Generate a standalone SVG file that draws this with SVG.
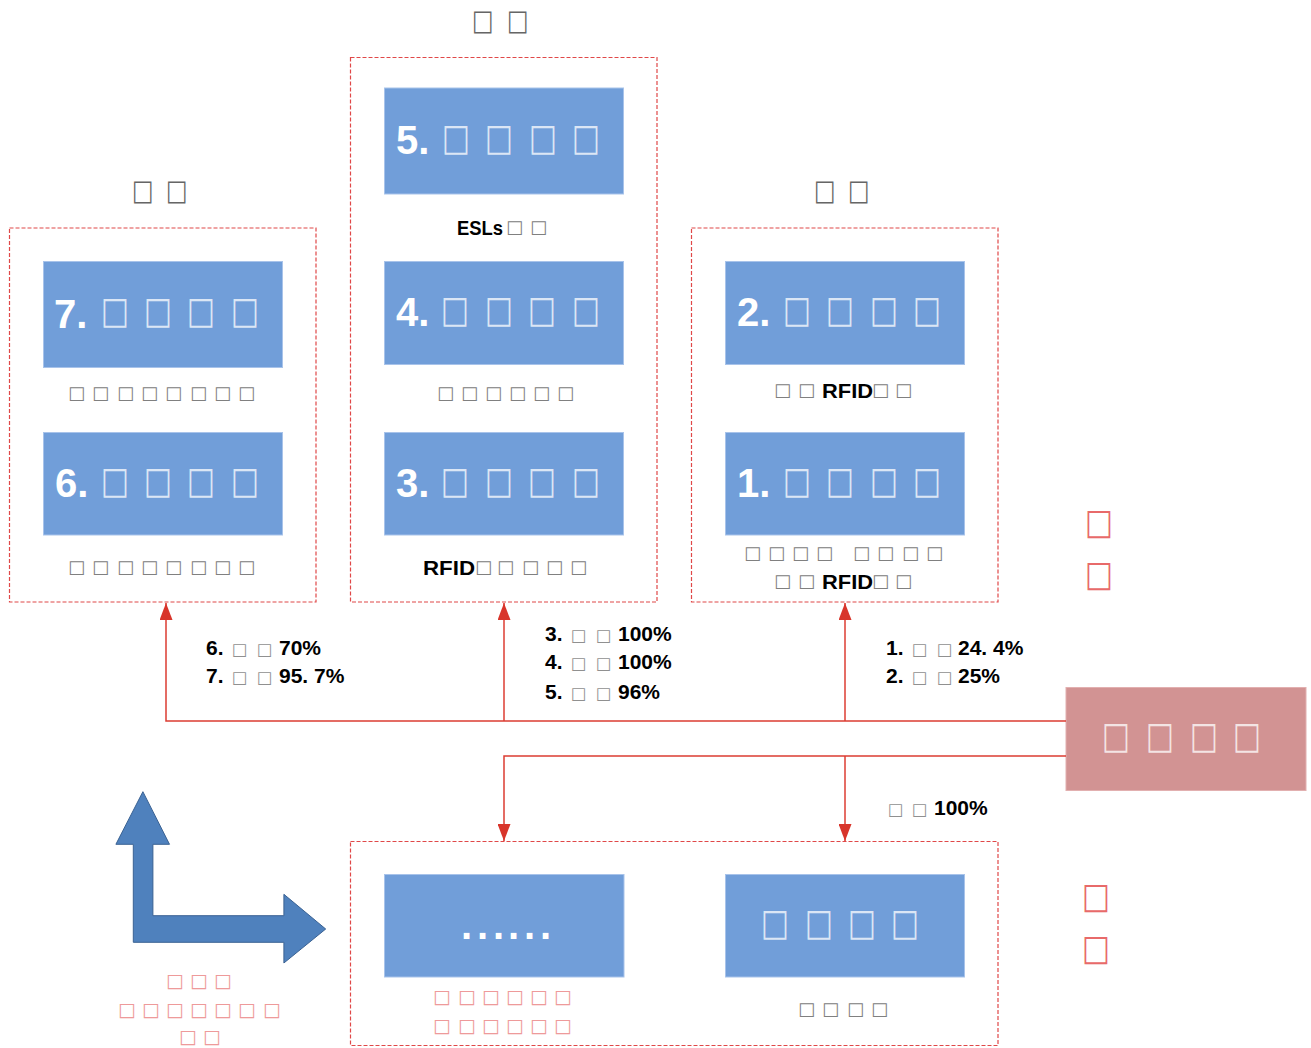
<svg xmlns="http://www.w3.org/2000/svg" width="1311" height="1048" viewBox="0 0 1311 1048">
<defs>
<style>
.grp{fill:none;stroke:#e04848;stroke-width:1.2;stroke-dasharray:4,2}
.blue{fill:#719ed9;stroke:#a8c3ea;stroke-width:1}
.num{font-family:"Liberation Sans",Arial,sans-serif;font-weight:bold;font-size:40px;fill:#fff}
.tw{font-family:"DejaVu Sans",sans-serif;font-size:30px;fill:#fff;fill-opacity:.75}
.tg{font-family:"DejaVu Sans",sans-serif;font-size:18px;fill:#808080}
.tt{font-family:"DejaVu Sans",sans-serif;font-size:23px;fill:#666}
.tr{font-family:"DejaVu Sans",sans-serif;font-size:30px;fill:#e86a6a}
.trs{font-family:"DejaVu Sans",sans-serif;font-size:19px;fill:#ee9a9a}
.lbl{font-family:"Liberation Sans",Arial,sans-serif;font-weight:bold;font-size:21px;fill:#000}
.ts{font-family:"DejaVu Sans",sans-serif;font-size:16.5px;fill:#909090;font-weight:normal}
.bk{font-family:"Liberation Sans",Arial,sans-serif;font-weight:bold;font-size:20px;fill:#000}
.con{fill:none;stroke:#dc3c32;stroke-width:1.5}
</style>
<marker id="ah" viewBox="0 0 17 13" refX="17" refY="6.5" markerWidth="17" markerHeight="13" markerUnits="userSpaceOnUse" orient="auto"><path d="M0,0 L17,6.5 L0,13Z" fill="#d8352b"/></marker>
</defs>
<rect width="1311" height="1048" fill="#fff"/>

<g id="group-left">
<rect class="grp" x="9.5" y="228" width="306.5" height="374"/>
<text class="tt" x="132 166" y="161.3" transform="scale(1 1.24)">□□</text>
</g>
<g id="group-mid">
<rect class="grp" x="350.5" y="57.5" width="306.5" height="544.5"/>
<text class="tt" x="472 507" y="24.2" transform="scale(1 1.24)">□□</text>
</g>
<g id="group-right">
<rect class="grp" x="691.5" y="228" width="306.5" height="374"/>
<text class="tt" x="814 848" y="161.3" transform="scale(1 1.24)">□□</text>
</g>
<g id="group-bottom">
<rect class="grp" x="350.5" y="841.5" width="647.5" height="204"/>
</g>

<g id="node7">
<rect class="blue" x="43.5" y="261.5" width="239" height="106"/>
<text class="num" x="54" y="328">7.</text>
<text class="tw" x="101 144 187 231" y="262.6" transform="scale(1 1.23)">□□□□</text>
<text class="tg" x="68 92 117 141 165 190 214 238" y="399">□□□□□□□□</text>
</g>
<g id="node6">
<rect class="blue" x="43.5" y="432.5" width="239" height="102.5"/>
<text class="num" x="55" y="497">6.</text>
<text class="tw" x="101 144 187 231" y="400.8" transform="scale(1 1.23)">□□□□</text>
<text class="tg" x="68 92 117 141 165 190 214 238" y="573">□□□□□□□□</text>
</g>
<g id="node5">
<rect class="blue" x="384.5" y="88" width="239" height="106"/>
<text class="num" x="396" y="154">5.</text>
<text class="tw" x="442 485 529 572" y="121.95" transform="scale(1 1.23)">□□□□</text>
<text class="bk" x="457" y="235" textLength="46" lengthAdjust="spacingAndGlyphs">ESLs</text>
<text class="tg" x="506 530" y="233">□□</text>
</g>
<g id="node4">
<rect class="blue" x="384.5" y="261.5" width="239" height="103"/>
<text class="num" x="396" y="326">4.</text>
<text class="tw" x="441 485 528 572" y="261.8" transform="scale(1 1.23)">□□□□</text>
<text class="tg" x="437 461 485 509 533 557" y="399">□□□□□□</text>
</g>
<g id="node3">
<rect class="blue" x="384.5" y="432.5" width="239" height="102.5"/>
<text class="num" x="396" y="497">3.</text>
<text class="tw" x="441 485 528 572" y="400.8" transform="scale(1 1.23)">□□□□</text>
<text class="bk" x="423" y="575" textLength="52" lengthAdjust="spacingAndGlyphs">RFID</text>
<text class="tg" x="475 497 522 546 570" y="573">□□□□□</text>
</g>
<g id="node2">
<rect class="blue" x="725.5" y="261.5" width="239" height="103"/>
<text class="num" x="737" y="326">2.</text>
<text class="tw" x="783 826 870 913" y="261.8" transform="scale(1 1.23)">□□□□</text>
<text class="tg" x="774 798" y="396">□□</text>
<text class="bk" x="822" y="398" textLength="51" lengthAdjust="spacingAndGlyphs">RFID</text>
<text class="tg" x="872 895" y="396">□□</text>
</g>
<g id="node1">
<rect class="blue" x="725.5" y="432.5" width="239" height="102.5"/>
<text class="num" x="737" y="497">1.</text>
<text class="tw" x="783 826 870 913" y="400.8" transform="scale(1 1.23)">□□□□</text>
<text class="tg" x="744 768 792 816 853 877 902 926" y="559">□□□□□□□□</text>
<text class="tg" x="774 798" y="587">□□</text>
<text class="bk" x="822" y="589" textLength="51" lengthAdjust="spacingAndGlyphs">RFID</text>
<text class="tg" x="872 895" y="587">□□</text>
</g>
<g id="node-source">
<rect x="1066" y="687.5" width="240" height="103" fill="#d29393" stroke="#e2b0b0" stroke-width="1"/>
<text class="tw" x="1102 1146 1190 1233" y="608.1" transform="scale(1 1.23)">□□□□</text>
</g>
<g id="node-etc">
<rect class="blue" x="384.5" y="874.5" width="239.5" height="102.5"/>
<text class="num" x="461 477 493 508 524 540" y="939">......</text>
<text class="trs" x="433 458 482 506 530 554" y="1003">□□□□□□</text>
<text class="trs" x="433 458 482 506 530 554" y="1032">□□□□□□</text>
</g>
<g id="node-bottom-right">
<rect class="blue" x="725.5" y="874.5" width="239" height="102.5"/>
<text class="tw" x="761 805 848 891" y="760.2" transform="scale(1 1.23)">□□□□</text>
<text class="tg" x="798 822 847 871" y="1015">□□□□</text>
</g>
<g id="side-labels">
<text class="tr" x="1085" y="448.7" transform="scale(1 1.19)">□</text>
<text class="tr" x="1085" y="492.4" transform="scale(1 1.19)">□</text>
<text class="tr" x="1082" y="763" transform="scale(1 1.19)">□</text>
<text class="tr" x="1082" y="806.7" transform="scale(1 1.19)">□</text>
</g>
<g id="bent-arrow">
<path d="M142.9,791.7 L169.5,844.3 L152.9,844.3 L152.9,915.7 L283.9,915.7 L283.9,894.3 L325.7,929 L283.9,963 L283.9,942.3 L133.3,942.3 L133.3,844.3 L115.9,844.3 Z" fill="#4f81bd" stroke="#3a6293" stroke-width="1"/>
<text class="trs" x="166 190 214" y="987">□□□</text>
<text class="trs" x="118 142 166 190 214 238 263" y="1016">□□□□□□□</text>
<text class="trs" x="179 203" y="1043">□□</text>
</g>

<g id="connectors">
<path class="con" d="M1066,721 H166 V603" marker-end="url(#ah)"/>
<path class="con" d="M504,721 V603" marker-end="url(#ah)"/>
<path class="con" d="M845,721 V603" marker-end="url(#ah)"/>
<path class="con" d="M1066,756 H504 V841" marker-end="url(#ah)"/>
<path class="con" d="M845,756 V841" marker-end="url(#ah)"/>
</g>
<g id="connector-labels">
<text class="lbl" x="206" y="655">6. <tspan class="ts" x="232 257">□□</tspan><tspan x="279">70%</tspan></text>
<text class="lbl" x="206" y="683">7. <tspan class="ts" x="232 257">□□</tspan><tspan x="279">95. 7%</tspan></text>
<text class="lbl" x="545" y="641">3. <tspan class="ts" x="571 596">□□</tspan><tspan x="618">100%</tspan></text>
<text class="lbl" x="545" y="669">4. <tspan class="ts" x="571 596">□□</tspan><tspan x="618">100%</tspan></text>
<text class="lbl" x="545" y="699">5. <tspan class="ts" x="571 596">□□</tspan><tspan x="618">96%</tspan></text>
<text class="lbl" x="886" y="655">1. <tspan class="ts" x="912 937">□□</tspan><tspan x="958">24. 4%</tspan></text>
<text class="lbl" x="886" y="683">2. <tspan class="ts" x="912 937">□□</tspan><tspan x="958">25%</tspan></text>
<text class="lbl" x="888" y="815"><tspan class="ts" x="888 912">□□</tspan><tspan x="934">100%</tspan></text>
</g>
</svg>
